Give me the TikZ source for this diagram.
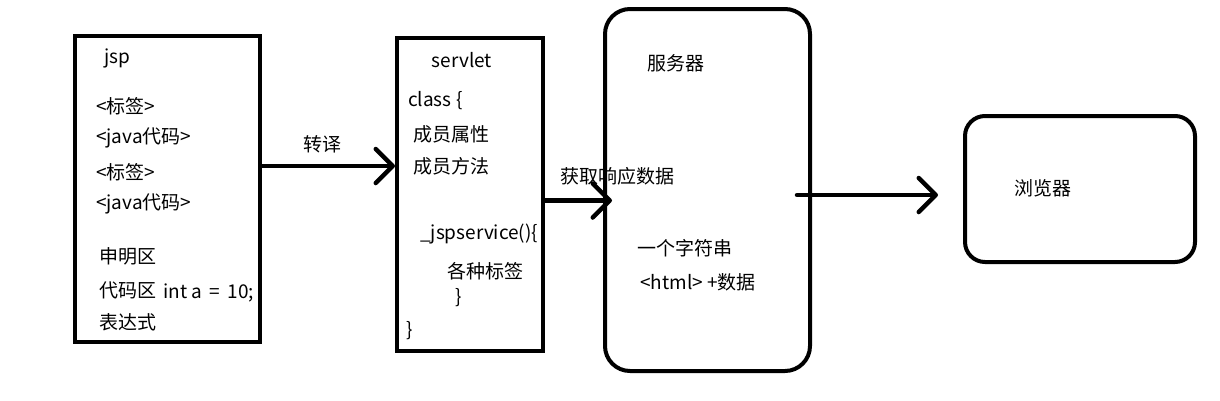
\documentclass[tikz,border=0pt]{standalone}
\usepackage{fontspec}
\setmainfont{Noto Sans CJK SC}
\usepackage{tikz}
\usetikzlibrary{arrows.meta, positioning, calc}

\begin{document}
\begin{tikzpicture}[x=1pt, y=-1pt,
  every node/.style={font=\fontsize{19pt}{23pt}\selectfont, inner sep=0pt},
  box/.style={draw, line width=4pt, inner sep=0pt},
  rbox/.style={box, rounded corners=#1},
  txt/.style={anchor=west},
  flow/.style={line width=4.5pt, line cap=round,
    -{Straight Barb[length=17pt, width=34pt, line width=4.5pt, round]}}]
\useasboundingbox (0,0) rectangle (1220,400);

% boxes
\node[box, minimum width=185pt, minimum height=306pt] (jsp) at (167.5,189) {};
\node[box, minimum width=146pt, minimum height=313pt] (servlet) at (470,194.5) {};
\node[rbox=25pt, minimum width=205pt, minimum height=362pt] (server) at (707.5,190) {};
\node[rbox=20pt, minimum width=230pt, minimum height=146pt] (browser) at (1080,189) {};

% jsp
\node (jspTitle) at (117,58) {jsp};
\node[txt] (jspTagA) at (96,106) {<标签>};
\node[txt] (jspCodeA) at (96,138) {<java代码>};
\node[txt] (jspTagB) at (96,172) {<标签>};
\node[txt] (jspCodeB) at (96,204) {<java代码>};
\node[txt] (jspDecl) at (99,256) {申明区};
\node[txt] (jspScript) at (99,290) {代码区};
\node[txt] (jspInt) at (163,293) {int a \,=\, 10;};
\node[txt] (jspExpr) at (99,322) {表达式};

% servlet
\node (servTitle) at (462,60) {servlet};
\node[txt] (servClass) at (408,101) {class \{};
\node[txt] (servAttr) at (413,134) {成员属性};
\node[txt] (servMeth) at (413,166) {成员方法};
\node[txt] (servFunc) at (420,234) {\_jspservice()\{};
\node[txt] (servTags) at (447,271) {各种标签};
\node[txt] (servEndA) at (455,298) {\}};
\node[txt] (servEndB) at (406,331) {\}};

% server
\node (srvTitle) at (676,63) {服务器};
\node[txt] (srvStr) at (637,248) {一个字符串};
\node[txt] (srvHtml) at (640,282) {<html> +数据};

% browser
\node (brwTitle) at (1043,188) {浏览器};

% arrows
\draw[flow] ([yshift=23pt]jsp.east) coordinate (t1) -- (t1 -| servlet.west);
\node (lblTrans) at (322,144) {转译};
\draw[flow] ([yshift=-6pt]servlet.east) coordinate (t2) -- ([xshift=9pt]t2 -| server.west);
\node[txt] (lblFetch) at (560,176) {获取响应数据};
\draw[flow] ([xshift=-15pt, yshift=-5pt]server.east) coordinate (t3) -- ([xshift=-25pt]t3 -| browser.west);
\end{tikzpicture}
\end{document}
